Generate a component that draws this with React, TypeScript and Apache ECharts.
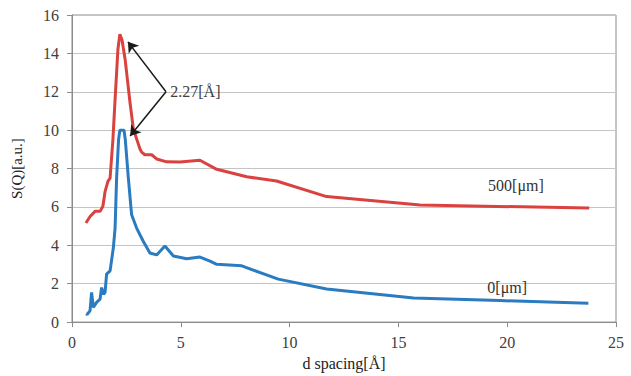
import React, { useEffect, useRef } from "react";
import * as echarts from "echarts";

const blueX = [0.64, 0.7, 0.83, 0.9, 0.98, 1.13, 1.29, 1.36, 1.45, 1.52, 1.59, 1.75, 1.9, 1.98, 2.05, 2.14, 2.2, 2.39, 2.45, 2.59, 2.74, 2.97, 3.28, 3.58, 3.89, 4.27, 4.66, 5.27, 5.88, 6.34, 6.65, 7.8, 9.48, 11.7, 15.7, 19.67, 23.73];
const blueY = [0.43, 0.4, 0.6, 1.55, 0.77, 1.03, 1.2, 1.8, 1.45, 1.55, 2.5, 2.67, 3.87, 4.9, 7.5, 9.5, 10.0, 10.0, 9.5, 7.5, 5.59, 4.9, 4.2, 3.6, 3.5, 3.96, 3.44, 3.3, 3.39, 3.18, 3.01, 2.93, 2.24, 1.72, 1.25, 1.12, 0.98];

const redX = [0.64, 0.83, 1.06, 1.29, 1.42, 1.52, 1.65, 1.75, 1.88, 1.98, 2.11, 2.2, 2.3, 2.44, 2.67, 2.82, 3.13, 3.2, 3.35, 3.66, 3.89, 4.35, 4.96, 5.88, 6.65, 8.03, 9.4, 11.7, 16.0, 23.77];
const redY = [5.16, 5.5, 5.77, 5.77, 6.04, 6.8, 7.33, 7.5, 9.5, 11.6, 14.2, 15.0, 14.7, 13.7, 11.4, 10.06, 9.0, 8.86, 8.72, 8.72, 8.5, 8.35, 8.34, 8.43, 7.96, 7.57, 7.35, 6.54, 6.1, 5.94];

const seriesNames = ["500[μm]", "0[μm]"];
const xTicks = { min: 0, max: 25, interval: 5 };
const yTicks = { min: 0, max: 16, interval: 2 };
const peakLabel = "2.27[Å]";
const annotationFrom = [4.32, 12.0];
const annotationTo = [
  [2.57, 14.6],
  [2.67, 9.7],
];

const serif = "Times New Roman";

export default function App() {
  const ref = useRef<HTMLDivElement>(null);
  useEffect(() => {
    if (!ref.current) return;
    const chart = echarts.init(ref.current, undefined, { renderer: "svg" });
    const red = redX.map((x, i) => [x, redY[i]]);
    const blue = blueX.map((x, i) => [x, blueY[i]]);
    chart.setOption({
      animation: false,
      backgroundColor: "#ffffff",
      textStyle: { fontFamily: serif },
      grid: {
        left: 72,
        right: 15,
        top: 15,
        bottom: 51,
        show: true,
        borderColor: "#8c8c8c",
        borderWidth: 1,
        backgroundColor: "transparent",
      },
      xAxis: {
        type: "value",
        min: xTicks.min,
        max: xTicks.max,
        interval: xTicks.interval,
        name: "d spacing[Å]",
        nameLocation: "middle",
        nameGap: 31,
        nameTextStyle: { fontFamily: serif, fontSize: 16, color: "#222" },
        axisLine: { show: true, lineStyle: { color: "#8c8c8c", width: 1 } },
        axisTick: { show: true, length: 5, lineStyle: { color: "#8c8c8c" } },
        axisLabel: { fontFamily: serif, fontSize: 16, color: "#404040", margin: 12 },
        splitLine: { show: false },
      },
      yAxis: {
        type: "value",
        min: yTicks.min,
        max: yTicks.max,
        interval: yTicks.interval,
        name: "S(Q)[a.u.]",
        nameLocation: "middle",
        nameGap: 48,
        nameTextStyle: { fontFamily: serif, fontSize: 15, color: "#222" },
        axisLine: { show: true, lineStyle: { color: "#8c8c8c", width: 1 } },
        axisTick: { show: true, length: 5, lineStyle: { color: "#8c8c8c" } },
        axisLabel: { fontFamily: serif, fontSize: 16, color: "#404040", margin: 13 },
        splitLine: { show: true, lineStyle: { color: "#c4c4c4", width: 1.2 } },
      },
      series: [
        {
          name: seriesNames[0],
          type: "line",
          data: red,
          showSymbol: false,
          symbol: "none",
          lineStyle: { color: "#d9423f", width: 3 },
          z: 3,
          markLine: {
            silent: true,
            symbol: ["none", "arrow"],
            symbolSize: 10,
            lineStyle: { color: "#1a1a1a", width: 1.5, type: "solid" },
            label: { show: false },
            data: annotationTo.map((to) => [{ coord: annotationFrom }, { coord: to }]),
          },
          markPoint: {
            silent: true,
            data: [
              {
                coord: [annotationFrom[0] + 0.15, annotationFrom[1]],
                symbol: "circle",
                symbolSize: 0,
                label: {
                  show: true,
                  position: "right",
                  distance: 1,
                  formatter: peakLabel,
                  fontFamily: serif,
                  fontSize: 16,
                  color: "#404040",
                },
              },
              {
                coord: [20.4, 7.1],
                symbol: "circle",
                symbolSize: 0,
                label: {
                  show: true,
                  position: "inside",
                  formatter: seriesNames[0],
                  fontFamily: serif,
                  fontSize: 16,
                  color: "#333",
                },
              },
            ],
          },
        },
        {
          name: seriesNames[1],
          type: "line",
          data: blue,
          showSymbol: false,
          symbol: "none",
          lineStyle: { color: "#2a7bc0", width: 3 },
          z: 2,
          markPoint: {
            silent: true,
            data: [
              {
                coord: [20.0, 1.8],
                symbol: "circle",
                symbolSize: 0,
                label: {
                  show: true,
                  position: "inside",
                  formatter: seriesNames[1],
                  fontFamily: serif,
                  fontSize: 16,
                  color: "#333",
                },
              },
            ],
          },
        },
      ],
    });
    return () => chart.dispose();
  }, []);
  return (
    <div
      ref={ref}
      style={{ position: "fixed", left: 0, top: 0, width: 631, height: 376, background: "#fff" }}
    />
  );
}
